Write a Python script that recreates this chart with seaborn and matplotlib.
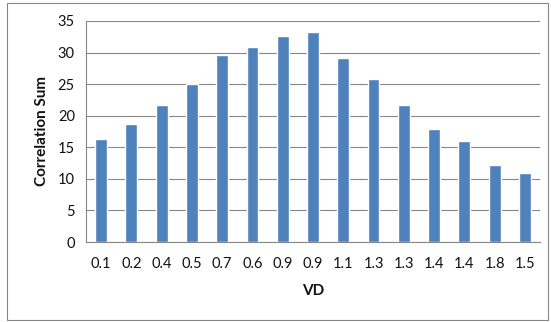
import matplotlib
matplotlib.use("Agg")
import matplotlib.pyplot as plt
import seaborn as sns
import pandas as pd
import numpy as np
from matplotlib.patches import Rectangle

vd_labels = ["0.1", "0.2", "0.4", "0.5", "0.7", "0.6", "0.9", "0.9",
             "1.1", "1.3", "1.3", "1.4", "1.4", "1.8", "1.5"]
correlation_sum = [16.3, 18.7, 21.7, 25.0, 29.6, 30.9, 32.6, 33.3,
                   29.2, 25.8, 21.7, 17.9, 16.0, 12.2, 10.9]
y_ticks = [0, 5, 10, 15, 20, 25, 30, 35]

sns.set_style("white")
plt.rcParams["font.family"] = ["Lato", "DejaVu Sans"]

df = pd.DataFrame({"slot": [str(i) for i in range(len(vd_labels))],
                   "value": correlation_sum})

fig = plt.figure(figsize=(5.51, 3.22), dpi=100)
ax = fig.add_axes([86 / 551, 1 - 242 / 322, (540 - 86) / 551, (242 - 21) / 322])

sns.barplot(data=df, x="slot", y="value", color="#4F81BD", saturation=1,
            width=0.39, ax=ax, zorder=3)

ax.set_ylim(0, 35)
ax.set_xlim(-0.5, len(vd_labels) - 0.5)
ax.set_yticks(y_ticks)
ax.set_yticklabels([str(t) for t in y_ticks], fontsize=10.5, color="#111111")
ax.set_xticks(range(len(vd_labels)))
ax.set_xticklabels(vd_labels, fontsize=10.5, color="#111111")
ax.set_xticks(np.arange(-0.5, len(vd_labels), 1.0), minor=True)
ax.tick_params(axis="x", which="major", length=0, pad=11)
ax.tick_params(axis="x", which="minor", length=5, width=0.8, color="#868686", direction="out")
ax.tick_params(axis="y", which="major", length=5, width=0.8, color="#868686", direction="out", pad=3)

ax.yaxis.grid(True, color="#868686", linewidth=0.8, zorder=0)
ax.xaxis.grid(False)
for side in ["top", "right"]:
    ax.spines[side].set_visible(False)
for side in ["left", "bottom"]:
    ax.spines[side].set_color("#868686")
    ax.spines[side].set_linewidth(0.8)

ax.set_xlabel("VD", fontsize=11, fontweight="bold", labelpad=9, color="#111111")
ax.set_ylabel("Correlation Sum", fontsize=11, fontweight="bold", labelpad=6, color="#111111")

fig.patches.append(Rectangle((7 / 551, 1 - 320 / 322), 541 / 551, 317 / 322,
                             transform=fig.transFigure, fill=False,
                             edgecolor="#868686", linewidth=0.8))

fig.savefig("out.png", dpi=100)
